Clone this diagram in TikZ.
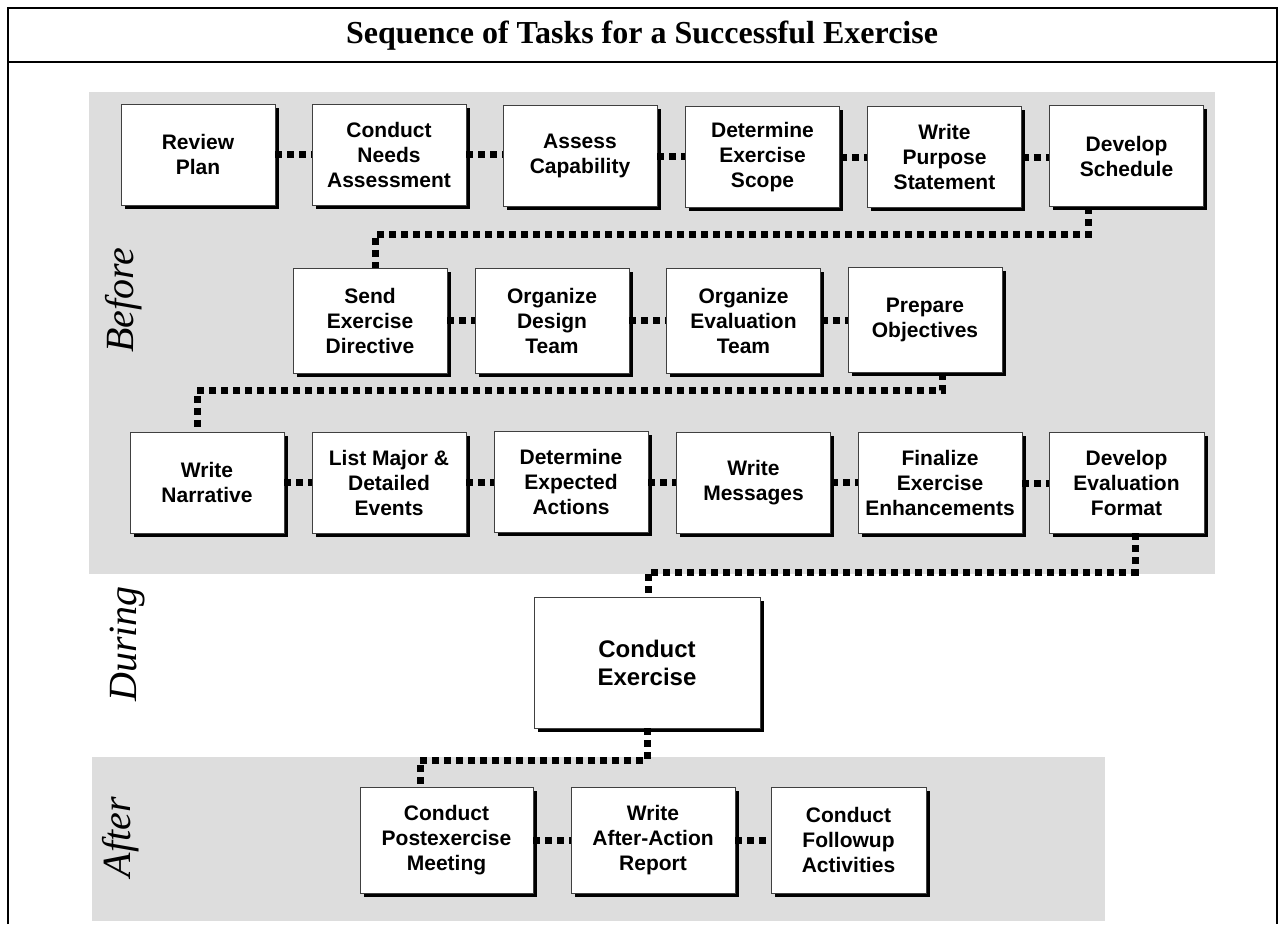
\documentclass[tikz,border=0pt]{standalone}
\usepackage{fontspec}
\setmainfont{Liberation Serif}
\setsansfont{Liberation Sans}
\usetikzlibrary{shadows}
\definecolor{bandgray}{RGB}{221,221,221}
\begin{document}
\begin{tikzpicture}[x=1pt,y=-1pt,
  task/.style={draw=black!75, line width=0.8pt, fill=white, align=center,
    font=\sffamily\bfseries\fontsize{21}{25}\selectfont, inner sep=0pt,
    minimum width=154pt, minimum height=101pt,
    drop shadow={shadow xshift=3.5pt, shadow yshift=-3.5pt, fill=black, opacity=1}},
  conn/.style={line width=7pt, dash pattern=on 7pt off 5pt},
  phase/.style={font=\itshape\fontsize{40}{40}\selectfont, rotate=90},
  frameline/.style={line width=2.5pt}]
\useasboundingbox (0,0) rectangle (1285,924);
% bands
\fill[bandgray] (89,92) rectangle (1215,574);
\fill[bandgray] (92,757) rectangle (1105,921);
% frame
\draw[frameline] (8,924) -- (8,8) -- (1277,8) -- (1277,924);
\draw[frameline] (8,62) -- (1277,62);
\node[font=\bfseries\fontsize{32}{32}\selectfont] (title) at (642,36) {Sequence of Tasks for a Successful Exercise};
% phase labels
\node[phase] (before) at (124,300) {Before};
\node[phase] (during) at (128,644) {During};
\node[phase] (after) at (121,837) {After};
% row 1
\node[task] (r1a) at (198,154.5) {Review\\Plan};
\node[task] (r1b) at (389,154.5) {Conduct\\Needs\\Assessment};
\node[task] (r1c) at (580,156) {Assess\\Capability};
\node[task] (r1d) at (762.5,157) {Determine\\Exercise\\Scope};
\node[task] (r1e) at (944.5,157) {Write\\Purpose\\Statement};
\node[task] (r1f) at (1126.5,156) {Develop\\Schedule};
% row 2
\node[task, minimum height=105pt] (r2a) at (370,320.5) {Send\\Exercise\\Directive};
\node[task, minimum height=105pt] (r2b) at (552,320.5) {Organize\\Design\\Team};
\node[task, minimum height=105pt] (r2c) at (743.5,320.5) {Organize\\Evaluation\\Team};
\node[task, minimum height=105pt] (r2d) at (925,320) {Prepare\\Objectives};
% row 3
\node[task] (r3a) at (207,482.5) {Write\\Narrative};
\node[task] (r3b) at (389,482.5) {List Major \&\\Detailed\\Events};
\node[task] (r3c) at (571,482) {Determine\\Expected\\Actions};
\node[task] (r3d) at (753.5,482.5) {Write\\Messages};
\node[task, minimum width=164pt] (r3e) at (940,483) {Finalize\\Exercise\\Enhancements};
\node[task, minimum width=155pt] (r3f) at (1126.5,482.5) {Develop\\Evaluation\\Format};
% during
\node[task, minimum width=226pt, minimum height=131pt,
  font=\sffamily\bfseries\fontsize{24}{28}\selectfont] (ce) at (647,662.5) {Conduct\\Exercise};
% after
\node[task, minimum width=173pt, minimum height=106pt] (a1) at (446.5,840) {Conduct\\Postexercise\\Meeting};
\node[task, minimum width=164pt, minimum height=106pt] (a2) at (653,840) {Write\\After-Action\\Report};
\node[task, minimum width=155pt, minimum height=106pt] (a3) at (848.5,840) {Conduct\\Followup\\Activities};
% connectors row 1
\draw[conn] (r1a.east) -- (r1a.east -| r1b.west);
\draw[conn] (r1b.east) -- (r1b.east -| r1c.west);
\draw[conn] (r1c.east) -- (r1c.east -| r1d.west);
\draw[conn] (r1d.east) -- (r1d.east -| r1e.west);
\draw[conn] (r1e.east) -- (r1e.east -| r1f.west);
\draw[conn] ([xshift=-38.5pt]r1f.south) -- ++(0,28) -| ([xshift=5pt]r2a.north);
% row 2
\draw[conn] (r2a.east) -- (r2b.west);
\draw[conn] (r2b.east) -- (r2c.west);
\draw[conn] (r2c.east) -- (r2c.east -| r2d.west);
\draw[conn] ([xshift=17pt]r2d.south) -- ++(0,18) -| ([xshift=-10pt]r3a.north);
% row 3
\draw[conn] (r3a.east) -- (r3b.west);
\draw[conn] (r3b.east) -- (r3b.east -| r3c.west);
\draw[conn] (r3c.east) -- (r3c.east -| r3d.west);
\draw[conn] (r3d.east) -- (r3d.east -| r3e.west);
\draw[conn] (r3e.east) -- (r3e.east -| r3f.west);
\draw[conn] ([xshift=8.5pt]r3f.south) -- ++(0,39) -| ([xshift=1pt]ce.north);
% during to after
\draw[conn] (ce.south) -- ++(0,32) -| ([xshift=-26.5pt]a1.north);
\draw[conn] (a1.east) -- (a2.west);
\draw[conn] (a2.east) -- (a3.west);
\end{tikzpicture}
\end{document}
